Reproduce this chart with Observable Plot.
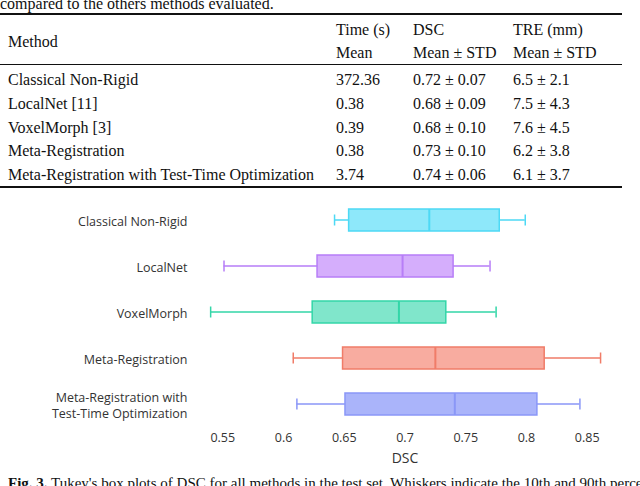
<!DOCTYPE html>
<html><head><meta charset="utf-8">
<script src="https://cdn.jsdelivr.net/npm/d3@7"></script>
<script src="https://cdn.jsdelivr.net/npm/@observablehq/plot@0.6"></script>
<style>
html,body{margin:0;padding:0;background:#fff;}
body{width:640px;height:486px;overflow:hidden;position:relative;font-family:"Liberation Serif","Times New Roman",serif;color:#111;}
.t{position:absolute;font-size:16px;line-height:16px;white-space:nowrap;}
.rule{position:absolute;left:0;width:622px;background:#111;}
#chart{position:absolute;left:0;top:190px;}
#cap{position:absolute;left:8px;top:476px;font-size:15px;line-height:15px;white-space:nowrap;}
</style></head><body>
<div id="page"></div>
<div id="chart"></div>
<div id="cap"><b>Fig. 3.</b> Tukey's box plots of DSC for all methods in the test set. Whiskers indicate the 10th and 90th percentiles.</div>
<script>
// ---- table data ----
const tableMethods = ["Classical Non-Rigid", "LocalNet [11]", "VoxelMorph [3]", "Meta-Registration", "Meta-Registration with Test-Time Optimization"];
const timeMean = ["372.36", "0.38", "0.39", "0.38", "3.74"];
const dscText = ["0.72 ± 0.07", "0.68 ± 0.09", "0.68 ± 0.10", "0.73 ± 0.10", "0.74 ± 0.06"];
const treText = ["6.5 ± 2.1", "7.5 ± 4.3", "7.6 ± 4.5", "6.2 ± 3.8", "6.1 ± 3.7"];
const headTop = ["Time (s)", "DSC", "TRE (mm)"];
const headSub = ["Mean", "Mean ± STD", "Mean ± STD"];

// ---- box plot data ----
const methods = ["Classical Non-Rigid", "LocalNet", "VoxelMorph", "Meta-Registration", "Meta-Registration with\nTest-Time Optimization"];
const whiskerLow  = [0.642, 0.551, 0.540, 0.608, 0.611];
const q1          = [0.654, 0.628, 0.624, 0.649, 0.651];
const median      = [0.720, 0.698, 0.695, 0.725, 0.741];
const q3          = [0.778, 0.740, 0.734, 0.815, 0.809];
const whiskerHigh = [0.799, 0.770, 0.775, 0.861, 0.844];
const fills   = ["#8ee8fa", "#d5aefc", "#80e6cb", "#f8aca0", "#aab4fa"];
const strokes = ["#4dd9f5", "#b77ef7", "#33d6a8", "#f07c68", "#8a97f7"];
const xTicks = [0.55, 0.6, 0.65, 0.7, 0.75, 0.8, 0.85];

// ---- build table ----
const page = document.getElementById("page");
function txt(s, x, yc) {
  const d = document.createElement("div");
  d.className = "t"; d.textContent = s;
  d.style.left = x + "px"; d.style.top = (yc - 8) + "px";
  page.appendChild(d);
}
function rule(y, h) {
  const d = document.createElement("div");
  d.className = "rule"; d.style.top = y + "px"; d.style.height = h + "px";
  page.appendChild(d);
}
txt("compared to the others methods evaluated.", 0, 4);
rule(12.5, 2);
const colX = [336, 413, 513];
txt("Method", 8, 42);
headTop.forEach((s, i) => txt(s, colX[i], 30));
headSub.forEach((s, i) => txt(s, colX[i], 53));
rule(63.5, 1);
tableMethods.forEach((m, i) => {
  const y = 80 + i * 23.8;
  txt(m, 8, y);
  txt(timeMean[i], colX[0], y);
  txt(dscText[i], colX[1], y);
  txt(treText[i], colX[2], y);
});
rule(186, 2);

// ---- chart ----
const data = methods.map((m, i) => ({
  m, lo: whiskerLow[i], q1: q1[i], med: median[i], q3: q3[i], hi: whiskerHigh[i],
  fill: fills[i], stroke: strokes[i]
}));

const chart = Plot.plot({
  width: 640, height: 296,
  marginLeft: 198, marginRight: 29, marginTop: 7, marginBottom: 59,
  style: {fontFamily: "'Open Sans', sans-serif", fontSize: "12px", color: "#333", background: "transparent"},
  x: {domain: [0.53, 0.87]},
  y: {domain: methods, padding: 0, axis: null},
  color: {type: "identity"},
  marks: [
    Plot.barX(data, {y: "m", x1: "lo", x2: "hi", fill: "stroke", insetTop: 22.25, insetBottom: 22.25}),
    Plot.tickX(data, {x: "lo", y: "m", stroke: "stroke", strokeWidth: 1.5, insetTop: 17.5, insetBottom: 17.5}),
    Plot.tickX(data, {x: "hi", y: "m", stroke: "stroke", strokeWidth: 1.5, insetTop: 17.5, insetBottom: 17.5}),
    Plot.barX(data, {y: "m", x1: "q1", x2: "q3", fill: "fill", stroke: "stroke", strokeWidth: 1.5, insetTop: 12, insetBottom: 12}),
    Plot.tickX(data, {x: "med", y: "m", stroke: "stroke", strokeWidth: 2, insetTop: 12, insetBottom: 12}),
    Plot.text(data, {y: "m", text: "m", frameAnchor: "left", dx: -11, textAnchor: "end", fontSize: 12.5, lineHeight: 1.28, fill: "#333"}),
    Plot.axisX({ticks: xTicks, tickSize: 0, tickPadding: 6, tickFormat: d => String(d), fontSize: 12.5, label: null, fill: "#333"}),
    Plot.text(["DSC"], {text: d => d, frameAnchor: "bottom", dy: 35, fontSize: 14, fill: "#333"})
  ]
});
document.getElementById("chart").appendChild(chart);
</script>
</body></html>
